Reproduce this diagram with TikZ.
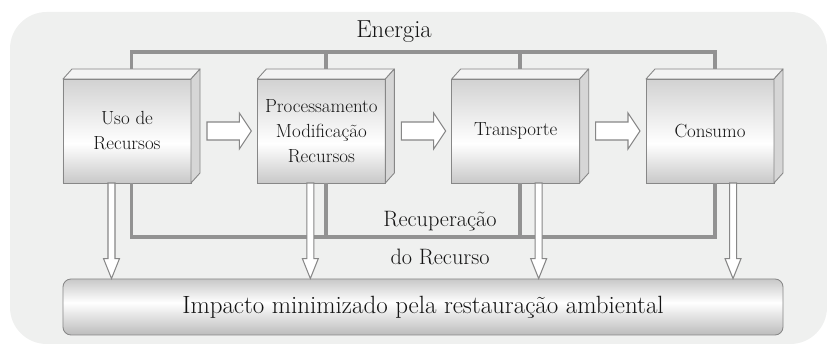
\documentclass[tikz,border=0pt]{standalone}
\usepackage{fontspec}
\usetikzlibrary{calc}
\definecolor{bgcol}{RGB}{239,240,239}
\definecolor{pipecol}{RGB}{146,146,146}
\definecolor{edgecol}{RGB}{135,135,135}
\definecolor{topcol}{RGB}{243,243,243}
\definecolor{sidecol}{RGB}{214,214,214}
\definecolor{cubelow}{RGB}{200,200,200}
\definecolor{cubehigh}{RGB}{210,210,210}
\definecolor{implow}{RGB}{188,188,188}
\definecolor{imphigh}{RGB}{200,200,200}
\definecolor{txtcol}{RGB}{20,20,20}
\pgfdeclareverticalshading{cubeface}{100bp}{color(0bp)=(cubelow); color(25bp)=(cubelow); color(44bp)=(white); color(75bp)=(cubehigh); color(100bp)=(cubehigh)}
\pgfdeclareverticalshading{impactface}{100bp}{color(0bp)=(implow); color(25bp)=(implow); color(54bp)=(white); color(75bp)=(imphigh); color(100bp)=(imphigh)}
\tikzset{every picture/.style={line width=0.75pt}}
\newcommand{\pu}{0.03cm}
\newcommand{\fatdown}[2]{%
  \draw[hollow] let \p1=(#1), \p2=(#2) in
    (\x1-3.5*\pu,\y1) -- (\x1-3.5*\pu,\y2+20*\pu) -- (\x1-8*\pu,\y2+20*\pu)
    -- (\x1,\y2) -- (\x1+8*\pu,\y2+20*\pu) -- (\x1+3.5*\pu,\y2+20*\pu)
    -- (\x1+3.5*\pu,\y1) -- cycle;}
\newcommand{\fatright}[2]{%
  \draw[hollow] let \p1=(#1), \p2=(#2) in
    (\x1,\y1+9*\pu) -- (\x2-12*\pu,\y1+9*\pu) -- (\x2-12*\pu,\y1+18*\pu)
    -- (\x2,\y1) -- (\x2-12*\pu,\y1-18*\pu) -- (\x2-12*\pu,\y1-9*\pu)
    -- (\x1,\y1-9*\pu) -- cycle;}

\begin{document}
\begin{tikzpicture}[x=0.03cm,y=-0.03cm,node distance=5.83cm,
    cube/.style={draw=edgecol, shading=cubeface, minimum width=3.84cm, minimum height=3.12cm,
      outer sep=0pt, align=center, text=txtcol, font=\fontsize{16.2}{21.3}\selectfont},
    facetop/.style={draw=edgecol, fill=topcol, line join=round},
    faceside/.style={draw=edgecol, fill=sidecol, line join=round},
    pipe/.style={draw=pipecol, line width=3.4pt},
    hollow/.style={draw=edgecol, fill=white, line width=0.9pt},
    lbl/.style={anchor=base, text=txtcol, font=\fontsize{19}{23}\selectfont},
    impact/.style={draw=edgecol, shading=impactface, rounded corners=0.24cm, minimum width=21.6cm,
      minimum height=1.68cm, text=txtcol, font=\fontsize{21.3}{25}\selectfont}]
        \useasboundingbox (0,0) rectangle (827,344);
        \fill[bgcol, rounded corners=1.1cm] (10,12) rectangle (827,344);

        \node[cube] (uso) at (127,131) {Uso de\\Recursos};
        \node[cube,right of=uso] (proc) {Processamento\\Modificação\\Recursos};
        \node[cube,right of=proc] (trans) {Transporte};
        \node[cube,right of=trans] (cons) {Consumo};
        \node[impact] (imp) at (423,307) {Impacto minimizado pela restauração ambiental};

        \foreach \s in {uso,proc,trans,cons}{
            \draw[facetop] (\s.north west) -- ++(9,-10) -- ($(\s.north east)+(9,-10)$) -- (\s.north east) -- cycle;
            \draw[faceside] (\s.north east) -- ++(9,-10) -- ($(\s.south east)+(9,-10)$) -- (\s.south east) -- cycle;
            \coordinate (t\s) at ($(\s.north)+(4.5,-10)$);
            \coordinate (b\s) at ($(\s.south)+(4.5,0)$);
        }

        \draw[pipe] (tuso) -- ++(0,-17) -| (tcons);
        \draw[pipe] (tproc) -- ++(0,-17);
        \draw[pipe] (ttrans) -- ++(0,-17);
        \draw[pipe] (buso) -- ++(0,54) -| (bcons);
        \draw[pipe] (bproc) -- ++(0,54);
        \draw[pipe] (btrans) -- ++(0,54);

        \coordinate (auso) at ($(uso.south)+(-15.5,0)$);
        \coordinate (aproc) at ($(proc.south)+(-11,0)$);
        \coordinate (atrans) at ($(trans.south)+(23,0)$);
        \coordinate (acons) at ($(cons.south)+(23,0)$);
        \foreach \s in {uso,proc,trans,cons}{
            \coordinate (e\s) at (a\s |- imp.north);
            \fatdown{a\s}{e\s}
        }
        \fatright{$(uso.east)+(16,0)$}{$(proc.west)+(-6,0)$}
        \fatright{$(proc.east)+(16,0)$}{$(trans.west)+(-6,0)$}
        \fatright{$(trans.east)+(16,0)$}{$(cons.west)+(-6,0)$}

        \node[lbl,font=\fontsize{21}{25}\selectfont] (energia) at (394,38) {Energia};
        \node[lbl] (recup) at (440,227) {Recuperação};
        \node[lbl] (recurso) at (440,265) {do Recurso};
    \end{tikzpicture}
\end{document}
